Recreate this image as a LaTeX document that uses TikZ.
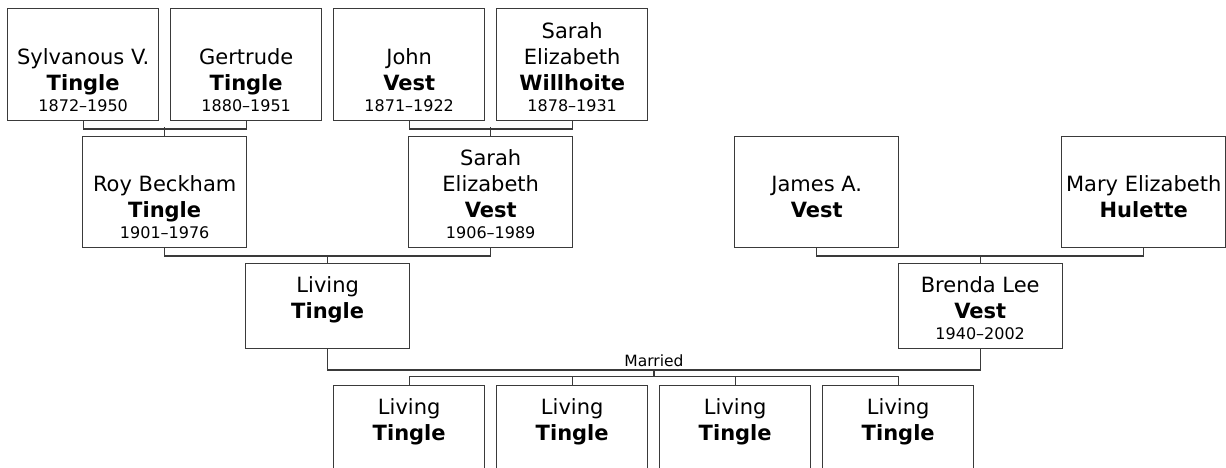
\documentclass[tikz,border=0pt]{standalone}
\usepackage{fontspec}
\setmainfont{DejaVu Sans}
\definecolor{lc}{HTML}{3A3A3A}
\tikzset{
 pbox/.style={draw=lc, line width=1.4pt, rectangle, inner sep=0pt, anchor=north west, fill=white},
 small/.style={pbox, minimum width=151pt, minimum height=112pt},
 big/.style={pbox, minimum width=164pt, minimum height=111pt},
 low/.style={pbox, minimum width=164pt, minimum height=85pt},
 kid/.style={pbox, minimum width=151pt, minimum height=85pt},
 nm/.style={inner sep=0pt, anchor=base, font=\fontsize{21}{25}\selectfont},
 sn/.style={inner sep=0pt, anchor=base, font=\fontsize{21}{25}\selectfont\bfseries},
 dt/.style={inner sep=0pt, anchor=base, font=\fontsize{16}{19}\selectfont},
 conn/.style={draw=lc, line width=1.4pt},
}
\newcommand\plinetxt[5]{\node[#2] (#1) at ([yshift=#3]#4.south) {#5};}
\begin{document}
\begin{tikzpicture}[x=1pt,y=-1pt]
\useasboundingbox (0,0) rectangle (1226,468);
\clip (0,0) rectangle (1226,468);
% great-grandparents
\node[small] (b1) at (7,8) {};
\plinetxt{b1a}{nm}{56.5pt}{b1}{Sylvanous V.}
\plinetxt{b1b}{sn}{30.5pt}{b1}{Tingle}
\plinetxt{b1c}{dt}{10pt}{b1}{1872–1950}
\node[small] (b2) at (170,8) {};
\plinetxt{b2a}{nm}{56.5pt}{b2}{Gertrude}
\plinetxt{b2b}{sn}{30.5pt}{b2}{Tingle}
\plinetxt{b2c}{dt}{10pt}{b2}{1880–1951}
\node[small] (b3) at (333,8) {};
\plinetxt{b3a}{nm}{56.5pt}{b3}{John}
\plinetxt{b3b}{sn}{30.5pt}{b3}{Vest}
\plinetxt{b3c}{dt}{10pt}{b3}{1871–1922}
\node[small] (b4) at (496,8) {};
\plinetxt{b4a}{nm}{82.5pt}{b4}{Sarah}
\plinetxt{b4b}{nm}{56.5pt}{b4}{Elizabeth}
\plinetxt{b4c}{sn}{30.5pt}{b4}{Willhoite}
\plinetxt{b4d}{dt}{10pt}{b4}{1878–1931}
% grandparents
\node[big] (r1) at (82,136) {};
\plinetxt{r1a}{nm}{56.5pt}{r1}{Roy Beckham}
\plinetxt{r1b}{sn}{30.5pt}{r1}{Tingle}
\plinetxt{r1c}{dt}{10pt}{r1}{1901–1976}
\node[big] (r2) at (408,136) {};
\plinetxt{r2a}{nm}{82.5pt}{r2}{Sarah}
\plinetxt{r2b}{nm}{56.5pt}{r2}{Elizabeth}
\plinetxt{r2c}{sn}{30.5pt}{r2}{Vest}
\plinetxt{r2d}{dt}{10pt}{r2}{1906–1989}
\node[big] (r3) at (734,136) {};
\plinetxt{r3a}{nm}{56.5pt}{r3}{James A.}
\plinetxt{r3b}{sn}{30.5pt}{r3}{Vest}
\node[big] (r4) at (1061,136) {};
\plinetxt{r4a}{nm}{56.5pt}{r4}{Mary Elizabeth}
\plinetxt{r4b}{sn}{30.5pt}{r4}{Hulette}
% parents
\node[low] (l1) at (245,263) {};
\plinetxt{l1a}{nm}{56.5pt}{l1}{Living}
\plinetxt{l1b}{sn}{30.5pt}{l1}{Tingle}
\node[low] (l2) at (897.5,263) {};
\plinetxt{l2a}{nm}{56.5pt}{l2}{Brenda Lee}
\plinetxt{l2b}{sn}{30.5pt}{l2}{Vest}
\plinetxt{l2c}{dt}{10pt}{l2}{1940–2002}
% children
\node[kid] (c1) at (333,385) {};
\node[kid] (c2) at (496,385) {};
\node[kid] (c3) at (659,385) {};
\node[kid] (c4) at (822,385) {};
\foreach \c in {c1,c2,c3,c4}{
  \plinetxt{\c a}{nm}{56.5pt}{\c}{Living}
  \plinetxt{\c b}{sn}{30.5pt}{\c}{Tingle}
}
% connectors
\draw[conn] (b1.south) -- ++(0,7.5) -| (b2.south);
\draw[conn] (r1.north) -- ++(0,-8.5);
\draw[conn] (b3.south) -- ++(0,7.5) -| (b4.south);
\draw[conn] (r2.north) -- ++(0,-8.5);
\draw[conn] (r1.south) -- ++(0,7.5) -| (r2.south);
\draw[conn] (l1.north) -- ++(0,-8.5);
\draw[conn] (r3.south) -- ++(0,7.5) -| (r4.south);
\draw[conn] (l2.north) -- ++(0,-8.5);
\draw[conn] (l1.south) -- ++(0,20.5) coordinate (ml) -| (l2.south);
\path (ml) -- (ml -| l2.south) coordinate[pos=0.5] (jm);
\node[anchor=base, inner sep=0pt, font=\fontsize{15.5}{18}\selectfont] (mar) at ([yshift=3.5pt]jm) {Married};
\draw[conn] (c1.north) -- ++(0,-8.5) coordinate (jk) -| (c4.north);
\draw[conn] (c2.north) -- ++(0,-8.5);
\draw[conn] (c3.north) -- ++(0,-8.5);
\draw[conn] (jm) -- (jm |- jk);
\end{tikzpicture}
\end{document}
